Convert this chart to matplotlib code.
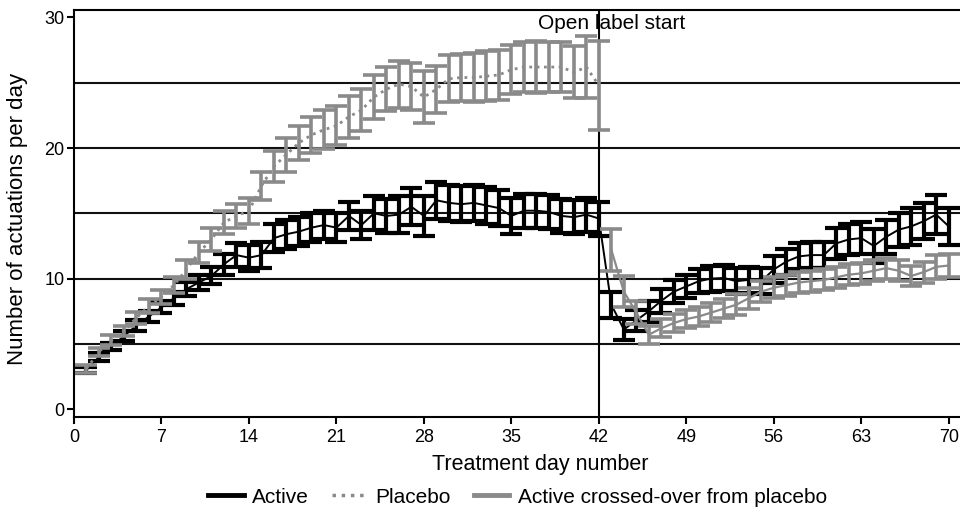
import numpy as np
import matplotlib
matplotlib.use("Agg")
import matplotlib.pyplot as plt
from matplotlib.lines import Line2D

plt.rcParams["font.family"] = ["Liberation Sans", "DejaVu Sans"]

# ---- data ----
days_blind = list(range(1, 43))
days_open = list(range(43, 71))
days_all = days_blind + days_open

active_mean = [3.0, 4.0, 4.8, 5.6, 6.4, 7.1, 7.8, 8.5, 9.2, 9.7,
               10.2, 11.1, 11.8, 11.6, 11.8, 13.1, 13.4, 13.6, 13.9, 14.1,
               13.9, 14.8, 14.1, 15.0, 14.8, 14.9, 15.5, 14.8, 16.0, 15.8,
               15.7, 15.8, 15.6, 15.4, 14.8, 15.2, 15.2, 15.1, 14.8, 14.7,
               14.9, 14.6,
               8.0, 6.1, 6.8, 7.5, 8.3, 9.0, 9.4, 9.8, 10.0, 10.05,
               9.8, 9.9, 9.8, 10.7, 11.3, 11.7, 11.8, 11.8, 12.7, 13.0,
               13.1, 12.5, 13.2, 13.75, 14.0, 14.4, 14.9, 14.0]
active_se = [0.25, 0.3, 0.3, 0.35, 0.4, 0.4, 0.45, 0.5, 0.55, 0.6,
             0.65, 0.8, 0.9, 1.0, 1.0, 1.1, 1.1, 1.1, 1.1, 1.1,
             1.1, 1.1, 1.1, 1.3, 1.3, 1.4, 1.4, 1.5, 1.4, 1.4,
             1.4, 1.4, 1.4, 1.4, 1.4, 1.3, 1.3, 1.3, 1.3, 1.3,
             1.3, 1.3,
             1.0, 0.8, 0.8, 0.8, 0.9, 0.9, 0.9, 0.9, 1.0, 1.0,
             1.0, 1.0, 1.0, 1.0, 1.0, 1.0, 1.0, 1.0, 1.2, 1.2,
             1.2, 1.3, 1.3, 1.3, 1.4, 1.4, 1.5, 1.4]

placebo_mean = [3.1, 4.4, 5.3, 6.0, 7.0, 7.9, 8.6, 9.5, 10.7, 12.0,
                13.0, 14.3, 14.8, 15.2, 17.1, 18.6, 19.5, 20.4, 21.0, 21.4,
                21.7, 22.4, 22.9, 23.9, 24.5, 24.9, 24.7, 23.9, 24.5, 25.3,
                25.4, 25.4, 25.5, 25.6, 26.0, 26.2, 26.2, 26.2, 26.2, 25.8,
                26.2, 24.8]
placebo_se = [0.3, 0.3, 0.35, 0.4, 0.45, 0.5, 0.55, 0.6, 0.7, 0.8,
              0.85, 0.9, 0.9, 1.0, 1.1, 1.2, 1.3, 1.3, 1.4, 1.5,
              1.5, 1.6, 1.6, 1.7, 1.7, 1.8, 1.8, 2.0, 1.8, 1.8,
              1.8, 1.9, 1.9, 1.9, 1.9, 1.9, 2.0, 1.9, 1.9, 2.0,
              2.4, 3.4]

crossover_mean = [12.2, 9.0, 7.4, 5.7, 6.2, 6.6, 6.9, 7.1, 7.4, 7.7,
                  8.0, 8.5, 9.0, 9.3, 9.5, 9.7, 9.8, 9.9, 10.1, 10.3,
                  10.4, 10.6, 10.8, 10.6, 10.2, 10.5, 10.9, 11.0]
crossover_se = [1.6, 1.2, 0.9, 0.7, 0.7, 0.7, 0.7, 0.7, 0.7, 0.7,
                0.8, 0.8, 0.8, 0.8, 0.8, 0.8, 0.8, 0.8, 0.8, 0.8,
                0.8, 0.8, 0.8, 0.8, 0.8, 0.8, 0.9, 0.9]

x_ticks = list(range(0, 71, 7))
y_ticks = [0, 10, 20, 30]
grid_levels = [5, 10, 15, 20, 25]

GREY = "#8a8a8a"

fig = plt.figure(figsize=(9.6, 5.13), dpi=100)
ax = fig.add_axes([74 / 960, 96 / 513, 886 / 960, 407 / 513])

for g in grid_levels:
    ax.axhline(g, color="#111111", lw=1.5, zorder=1)
ax.axvline(42, color="black", lw=1.5, zorder=1)

ax.errorbar(days_all, active_mean, yerr=active_se, fmt="-", color="black",
            lw=1.4, elinewidth=3, capsize=8, capthick=3, zorder=3)
ax.errorbar(days_blind, placebo_mean, yerr=placebo_se, fmt=":", color=GREY,
            lw=2, elinewidth=2.6, capsize=8, capthick=2.6, zorder=4)
ax.errorbar(days_open, crossover_mean, yerr=crossover_se, fmt="-", color=GREY,
            lw=1.6, elinewidth=2.6, capsize=8, capthick=2.6, zorder=4)

ax.text(43, 29.5, "Open label start", ha="center", va="center", fontsize=15)

ax.set_xlim(0, 70.9)
ax.set_ylim(-0.6, 30.57)
ax.set_xticks(x_ticks)
ax.set_yticks(y_ticks)
ax.tick_params(axis="both", labelsize=13, width=1.5, length=5, direction="out")
ax.tick_params(axis="y", pad=2)
for side in ["left", "bottom", "top"]:
    ax.spines[side].set_linewidth(1.5)
ax.spines["right"].set_visible(False)

ax.set_xlabel("Treatment day number", fontsize=15.5)
ax.xaxis.set_label_coords(0.526, -0.09)
ax.set_ylabel("Number of actuations per day", fontsize=16)
ax.yaxis.set_label_coords(-0.052, 0.486)

handles = [
    Line2D([], [], color="black", lw=3.5),
    Line2D([], [], color=GREY, lw=2.5, ls=":"),
    Line2D([], [], color=GREY, lw=3.5),
]
labels = ["Active", "Placebo", "Active crossed-over from placebo"]
fig.legend(handles, labels, loc="center", bbox_to_anchor=(0.539, 0.031),
           ncol=3, frameon=False, fontsize=15, handlelength=1.7,
           handletextpad=0.4, columnspacing=1.1)

fig.savefig("out.png", dpi=100)
